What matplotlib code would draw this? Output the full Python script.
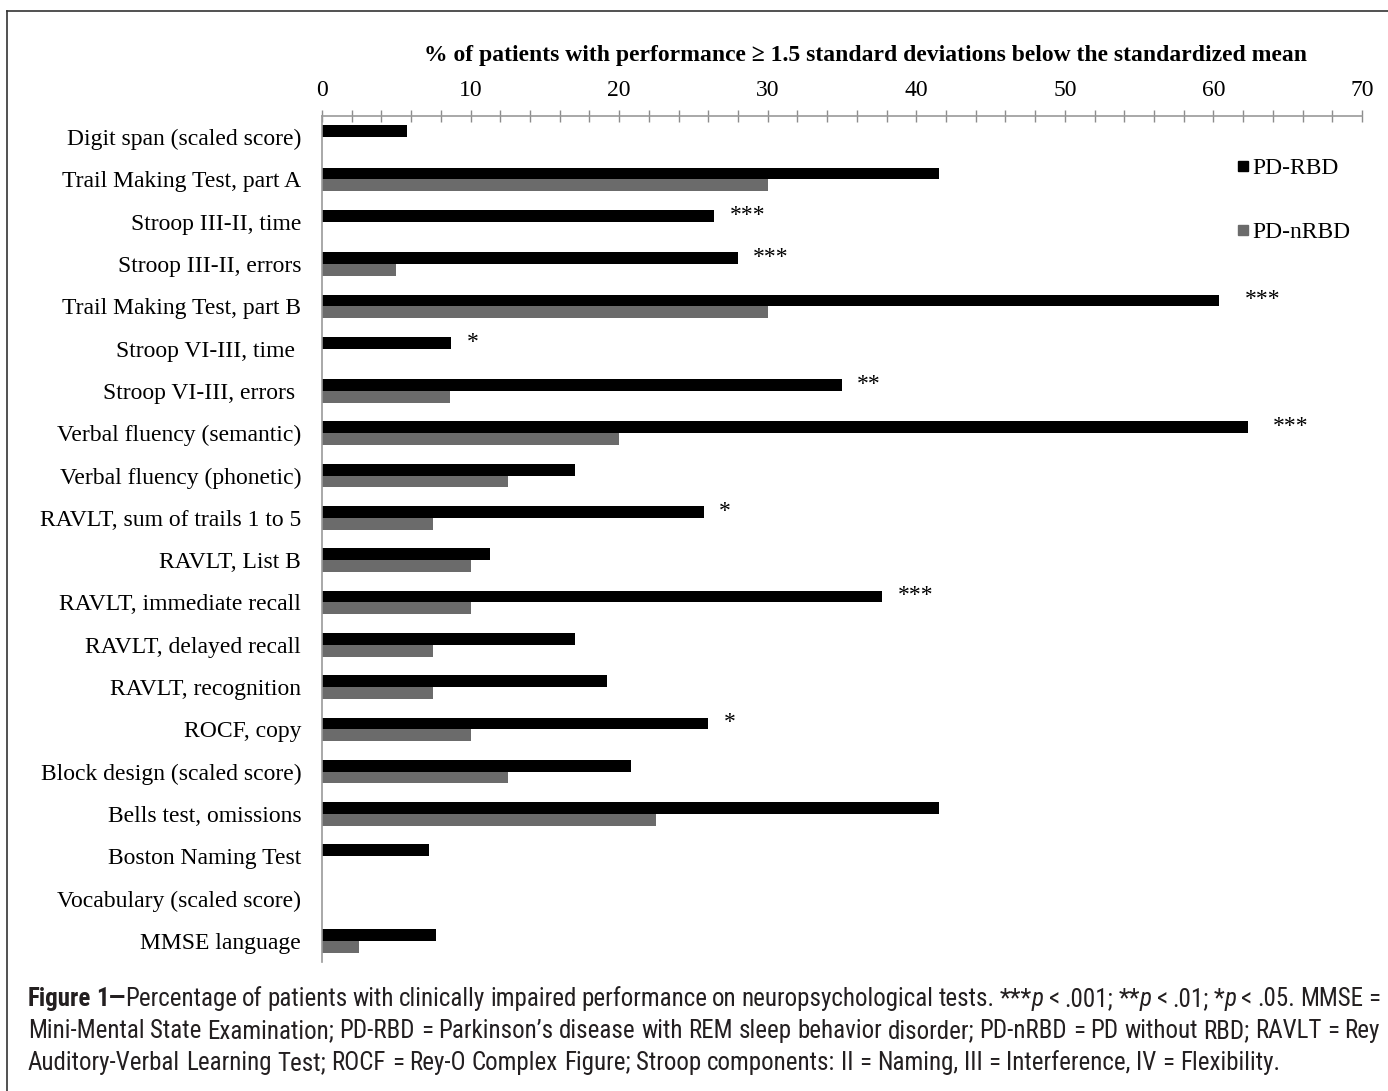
import matplotlib
matplotlib.use('Agg')
import matplotlib.pyplot as plt
from matplotlib.lines import Line2D
from matplotlib import font_manager
from matplotlib.ticker import MultipleLocator

# Data
tests = ['Digit span (scaled score)', 'Trail Making Test, part A', 'Stroop III-II, time',
         'Stroop III-II, errors', 'Trail Making Test, part B', 'Stroop VI-III, time ',
         'Stroop VI-III, errors ', 'Verbal fluency (semantic)', 'Verbal fluency (phonetic)',
         'RAVLT, sum of trails 1 to 5', 'RAVLT, List B', 'RAVLT, immediate recall',
         'RAVLT, delayed recall', 'RAVLT, recognition', 'ROCF, copy',
         'Block design (scaled score)', 'Bells test, omissions', 'Boston Naming Test',
         'Vocabulary (scaled score)', 'MMSE language']
pd_rbd = [5.7, 41.5, 26.4, 28.0, 60.4, 8.7, 35.0, 62.3, 17.0, 25.7,
          11.3, 37.7, 17.0, 19.2, 26.0, 20.8, 41.5, 7.2, 0.0, 7.7]
pd_nrbd = [0.0, 30.0, 0.0, 5.0, 30.0, 0.0, 8.6, 20.0, 12.5, 7.5,
           10.0, 10.0, 7.5, 7.5, 10.0, 12.5, 22.5, 0.0, 0.0, 2.5]
stars = ['', '', '***', '***', '***', '*', '**', '***', '', '*',
         '', '***', '', '', '*', '', '', '', '', '']

serif = 'Liberation Serif'
plt.rcParams['font.family'] = serif
fs = 17

fig = plt.figure(figsize=(13.88, 10.91), dpi=100)
ax = fig.add_axes([322 / 1388, 1 - 962 / 1091, 1040 / 1388, 846 / 1091])

h = 0.28
y = list(range(len(tests)))
ax.barh([v - h / 2 for v in y], pd_rbd, height=h, color='black', linewidth=0, label='PD-RBD')
ax.barh([v + h / 2 for v in y], pd_nrbd, height=h, color='#6b6b6b', linewidth=0, label='PD-nRBD')

for i, s in enumerate(stars):
    if s:
        # the longest bars had their stars pushed a bit further out
        gap = 18 if pd_rbd[i] > 55 else 11
        ax.annotate(s, xy=(pd_rbd[i], i - h * 0.55), xytext=(gap, 0), textcoords='offset points',
                    ha='left', va='center', fontsize=fs, fontfamily=serif)

ax.set_xlim(0, 70)
ax.set_ylim(len(tests) - 0.5, -0.5)
ax.set_yticks(y)
ax.set_yticklabels(tests, fontsize=fs)
ax.tick_params(axis='y', length=0, pad=15)
ax.xaxis.tick_top()
ax.xaxis.set_major_locator(MultipleLocator(10))
ax.xaxis.set_minor_locator(MultipleLocator(2))
ax.tick_params(axis='x', which='both', direction='inout', length=9, width=1,
               color='#8c8c8c', labelsize=fs, pad=6)
for side in ['right', 'bottom']:
    ax.spines[side].set_visible(False)
for side in ['top', 'left']:
    ax.spines[side].set_color('#9a9a9a')
    ax.spines[side].set_linewidth(1.2)

fig.text(866 / 1388, 1 - 56 / 1091,
         '% of patients with performance \u2265 1.5 standard deviations below the standardized mean',
         ha='center', va='center', fontsize=fs, fontweight='bold', fontfamily=serif)

handles = [Line2D([], [], marker='s', linestyle='none', color='black', markersize=7),
           Line2D([], [], marker='s', linestyle='none', color='#6b6b6b', markersize=7)]
fig.legend(handles, ['PD-RBD', 'PD-nRBD'], loc='upper left',
           bbox_to_anchor=(1225 / 1388, 1 - 146 / 1091), frameon=False, fontsize=fs,
           handlelength=0.5, handletextpad=0.15, labelspacing=1.8, borderpad=0)

# frame around figure (top and left edges visible)
fig.add_artist(Line2D([7 / 1388, 1], [1 - 11 / 1091] * 2, color='#333333', lw=1.2))
fig.add_artist(Line2D([7 / 1388] * 2, [0, 1 - 11 / 1091], color='#333333', lw=1.2))

# caption
names = {f.name for f in font_manager.fontManager.ttflist}
cap_font = 'Liberation Sans'
for cand in ['Liberation Sans Narrow', 'Roboto Condensed', 'Open Sans Condensed',
             'Noto Sans Condensed', 'DejaVu Sans Condensed', 'Roboto']:
    if cand in names:
        cap_font = cand
        break
cap_size = 17.0
cap_lines = [
    ([('Figure 1\u2014', 'bold'), ('Percentage of patients with clinically impaired performance on '
      'neuropsychological tests. ***', 'normal'), ('p', 'italic'), (' < .001; **', 'normal'),
      ('p', 'italic'), (' < .01; *', 'normal'), ('p', 'italic'), (' < .05. MMSE =', 'normal')], True),
    ([('Mini-Mental State Examination; PD-RBD = Parkinson\u2019s disease with REM sleep behavior '
       'disorder; PD-nRBD = PD without RBD; RAVLT = Rey', 'normal')], True),
    ([('Auditory-Verbal Learning Test; ROCF = Rey-O Complex Figure; Stroop components: '
       'II = Naming, III = Interference, IV = Flexibility.', 'normal')], False),
]
renderer = fig.canvas.get_renderer()


def make(txt, style, x, yy):
    kw = dict(fontsize=cap_size, fontfamily=cap_font, color='#231f20', va='baseline', ha='left')
    if style == 'bold':
        kw['fontweight'] = 'bold'
    if style == 'italic':
        kw['fontstyle'] = 'italic'
    return fig.text(x, yy, txt, **kw)


def width(txt, style):
    t = make(txt, style, 0, 0)
    w = t.get_window_extent(renderer).width
    t.remove()
    return w


# fit the caption size so the last line ends where it does in the original
cap_size = cap_size * 1253 / width(cap_lines[2][0][0][0], 'normal')

x0, x1 = 28, 1380
space_w = width('a a', 'normal') - width('aa', 'normal')
for li, (segs, justify) in enumerate(cap_lines):
    tokens = []
    for txt, style in segs:
        glue = True
        for k, part in enumerate(txt.split(' ')):
            if k > 0:
                glue = False
            if part == '':
                continue
            tokens.append((part, style, glue if tokens else True))
            glue = False
    widths = [width(t, s) for t, s, g in tokens]
    gaps = sum(1 for t in tokens if not t[2])
    sw = (x1 - x0 - sum(widths)) / gaps if justify else space_w
    xp = x0
    yb = 1 - (1006 + li * 32) / 1091
    for (t, s, g), w in zip(tokens, widths):
        if not g:
            xp += sw
        make(t, s, xp / 1388, yb)
        xp += w

fig.savefig('out.png', dpi=100)
